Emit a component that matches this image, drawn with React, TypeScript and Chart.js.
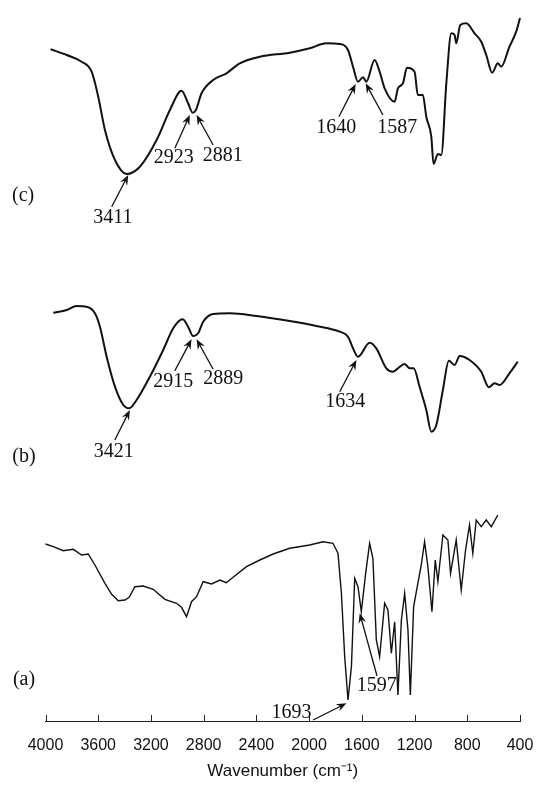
import React, { useEffect, useRef } from "react";
import { Chart, registerables } from "chart.js";

Chart.register(...registerables);

// ---- Trace (c) ----
const waveC = [3961, 3839, 3726, 3650, 3600, 3549, 3473, 3385, 3284, 3157, 3056, 2968, 2918, 2884, 2859, 2816, 2728, 2627, 2526, 2374, 2147, 1995, 1869, 1768, 1705, 1667, 1629, 1591, 1566, 1503, 1465, 1427, 1351, 1326, 1288, 1258, 1200, 1175, 1137, 1111, 1073, 1056, 1023, 997, 959, 921, 896, 884, 853, 808, 745, 694, 656, 611, 568, 543, 480, 429, 400];
const transC = [671.7, 666, 659.3, 649.3, 624.3, 591, 561, 547, 554.3, 581, 611, 630.3, 617.7, 608.3, 611, 627.7, 641, 647.7, 657.7, 664.3, 668.3, 672.7, 677.7, 677, 671, 654.3, 639.3, 643.7, 639.3, 661, 649.3, 632.7, 619.3, 632.7, 637.7, 653.3, 649.3, 626, 626, 604.3, 584.3, 557, 567, 566, 637.7, 687.7, 686, 677.7, 696, 697.7, 687.7, 679.3, 666, 648.3, 657.7, 654.3, 674.3, 689.3, 703];

// ---- Trace (b) ----
const waveB = [3941, 3839, 3764, 3688, 3625, 3587, 3536, 3473, 3410, 3365, 3309, 3208, 3107, 3031, 2960, 2918, 2880, 2842, 2804, 2728, 2602, 2399, 2147, 1945, 1768, 1705, 1667, 1629, 1541, 1490, 1414, 1364, 1326, 1275, 1237, 1207, 1162, 1111, 1073, 1035, 985, 940, 896, 858, 783, 694, 636, 593, 555, 480, 417];
const transB = [408.3, 411, 415, 414.3, 407.7, 394.3, 364.3, 334.3, 316, 312.7, 321, 344.3, 371, 392.7, 401.7, 394.3, 385, 387.7, 399.3, 407, 407.7, 405, 400, 395, 389.3, 384.3, 372.7, 364.3, 378.3, 372.7, 352.7, 349.3, 352.7, 357, 352.7, 352.7, 334.3, 311, 289.3, 296, 331, 360.3, 356, 365, 361, 349.3, 333.7, 337.7, 336, 347.7, 359.3];

// ---- Trace (a) ----
const waveA = [4000, 3941, 3865, 3789, 3726, 3676, 3625, 3549, 3498, 3448, 3397, 3365, 3322, 3259, 3183, 3094, 3006, 2968, 2930, 2892, 2854, 2804, 2740, 2677, 2627, 2577, 2475, 2374, 2273, 2147, 1995, 1895, 1819, 1781, 1755, 1730, 1705, 1679, 1654, 1629, 1604, 1571, 1541, 1516, 1490, 1465, 1427, 1402, 1376, 1351, 1326, 1300, 1275, 1250, 1232, 1207, 1175, 1149, 1124, 1099, 1068, 1043, 1023, 985, 947, 927, 884, 846, 813, 783, 758, 732, 694, 656, 618, 568];
const transA = [177, 174.3, 170.3, 171.7, 166, 167, 156, 137.7, 126.7, 120.3, 121, 123.7, 134.3, 135, 131.7, 121.7, 117.7, 113.7, 104.3, 119.3, 124.3, 139.3, 137, 141, 138.3, 143.7, 154.3, 161, 167, 172.7, 176, 179.3, 177.7, 167.7, 127.7, 64.3, 21, 54.3, 142.7, 134.3, 109.3, 147.7, 177.7, 162.7, 81, 64.3, 117.7, 111, 67.7, 99.3, 26, 101, 127.7, 91, 26, 114.3, 137.7, 156, 179.3, 154.3, 109.3, 161, 139.3, 186, 181, 147.7, 181, 131, 171, 196, 167.7, 201, 194.3, 201, 194.3, 206];

// ---- Axis ticks ----
const xTicks = [4000, 3600, 3200, 2800, 2400, 2000, 1600, 1200, 800, 400];
const xTitle = "Wavenumber (cm\u207B\u00B9)";

// ---- Peak labels: text, tip position (wavenumber, transmittance) ----
const peakLabels = ["3411", "2923", "2881", "1640", "1587", "3421", "2915", "2889", "1634", "1597", "1693"];
const peakTipWave = [3372, 2905, 2854, 1647, 1571, 3360, 2892, 2854, 1641, 1616, 1717];
const peakTipT = [546, 606, 606, 637, 637.7, 311, 381.7, 381.7, 361, 107.7, 17.7];
// layout of each label relative to its arrow tip (pixels): tail dx, dy, text dx, dy
const peakLayout = [
  [-16.6, 31.7, -15.3, 43],
  [-15, 33.3, -16, 43],
  [16.6, 30, 26.3, 40.5],
  [-16.7, 32.7, -19.5, 44],
  [17.3, 31.7, 31.5, 44.7],
  [-15, 30, -16, 41.5],
  [-16.7, 31.4, -18.4, 42.7],
  [16.6, 30, 26.8, 39.7],
  [-16.7, 31.7, -11.2, 42],
  [17.3, 62.7, 17, 72.7],
  [-33.4, 16.7, -55, 9.7],
];

// ---- Series labels ----
const seriesNames = ["(c)", "(b)", "(a)"];
const seriesNameWave = [4170, 4163, 4163];
const seriesNameT = [525, 264, 41];

const toPoints = (w: number[], t: number[]) => w.map((x, i) => ({ x, y: t[i] }));

const annotationPlugin = {
  id: "peakAnnotations",
  afterDatasetsDraw(chart: any) {
    const { ctx, scales } = chart;
    const xs = scales.x;
    const ys = scales.y;
    ctx.save();
    ctx.strokeStyle = "#111";
    ctx.fillStyle = "#111";
    ctx.lineWidth = 1.3;
    ctx.font = '20px "Liberation Serif", "DejaVu Serif", serif';
    ctx.textAlign = "center";
    ctx.textBaseline = "middle";
    peakLabels.forEach((label, i) => {
      const tx = xs.getPixelForValue(peakTipWave[i]);
      const ty = ys.getPixelForValue(peakTipT[i]);
      const [tdx, tdy, lx, ly] = peakLayout[i];
      const sx = tx + tdx;
      const sy = ty + tdy;
      const ang = Math.atan2(ty - sy, tx - sx);
      const L = 10;
      const W = 4;
      const cos = Math.cos(ang);
      const sin = Math.sin(ang);
      ctx.beginPath();
      ctx.moveTo(sx, sy);
      ctx.lineTo(tx - L * 0.6 * cos, ty - L * 0.6 * sin);
      ctx.stroke();
      ctx.beginPath();
      ctx.moveTo(tx, ty);
      ctx.lineTo(tx - L * cos + W * sin, ty - L * sin - W * cos);
      ctx.lineTo(tx - L * 0.65 * cos, ty - L * 0.65 * sin);
      ctx.lineTo(tx - L * cos - W * sin, ty - L * sin + W * cos);
      ctx.closePath();
      ctx.fill();
      ctx.fillText(label, tx + lx, ty + ly);
    });
    seriesNames.forEach((name, i) => {
      ctx.fillText(name, xs.getPixelForValue(seriesNameWave[i]), ys.getPixelForValue(seriesNameT[i]));
    });
    // inward tick marks on the x axis
    ctx.lineWidth = 1;
    ctx.strokeStyle = "#222";
    const bottom = chart.chartArea.bottom;
    xTicks.forEach((v) => {
      const px = Math.round(xs.getPixelForValue(v)) + 0.5;
      ctx.beginPath();
      ctx.moveTo(px, bottom);
      ctx.lineTo(px, bottom - 6);
      ctx.stroke();
    });
    ctx.restore();
  },
};

export default function App() {
  const ref = useRef<HTMLCanvasElement | null>(null);
  useEffect(() => {
    if (!ref.current) return;
    const chart = new Chart(ref.current, {
      type: "line",
      data: {
        datasets: [
          {
            label: "(c)",
            data: toPoints(waveC, transC),
            borderColor: "#111",
            borderWidth: 2,
            pointRadius: 0,
            cubicInterpolationMode: "monotone",
            clip: false,
          },
          {
            label: "(b)",
            data: toPoints(waveB, transB),
            borderColor: "#111",
            borderWidth: 2,
            pointRadius: 0,
            cubicInterpolationMode: "monotone",
            clip: false,
          },
          {
            label: "(a)",
            data: toPoints(waveA, transA),
            borderColor: "#111",
            borderWidth: 1.4,
            pointRadius: 0,
            tension: 0,
            clip: false,
          },
        ],
      },
      options: {
        animation: false,
        responsive: false,
        maintainAspectRatio: false,
        events: [],
        layout: { padding: { left: 45.5, right: 17, top: 0, bottom: 0 } },
        plugins: {
          legend: { display: false },
          tooltip: { enabled: false },
          title: { display: false },
        },
        scales: {
          x: {
            type: "linear",
            reverse: true,
            min: 400,
            max: 4000,
            afterBuildTicks: (scale: any) => {
              scale.ticks = xTicks.map((v) => ({ value: v }));
            },
            afterFit: (scale: any) => {
              scale.height = 69;
              scale.paddingLeft = 0;
              scale.paddingRight = 0;
            },
            ticks: {
              autoSkip: false,
              maxRotation: 0,
              padding: 15,
              color: "#111",
              font: { family: '"Liberation Sans", Arial, sans-serif', size: 16 },
              callback: (v: any) => String(v),
            },
            grid: { display: false, drawTicks: false },
            border: { display: true, color: "#222", width: 1 },
            title: {
              display: true,
              text: xTitle,
              color: "#111",
              font: { family: '"Liberation Sans", Arial, sans-serif', size: 17 },
              padding: { top: 0, bottom: 8 },
            },
          },
          y: {
            type: "linear",
            display: false,
            min: 0,
            max: 721,
          },
        },
      },
      plugins: [annotationPlugin],
    } as any);
    return () => chart.destroy();
  }, []);
  return (
    <div style={{ position: "absolute", left: 0, top: 0, width: 537, height: 790, background: "#fff" }}>
      <canvas ref={ref} width={537} height={790} style={{ width: 537, height: 790, display: "block" }} />
    </div>
  );
}
